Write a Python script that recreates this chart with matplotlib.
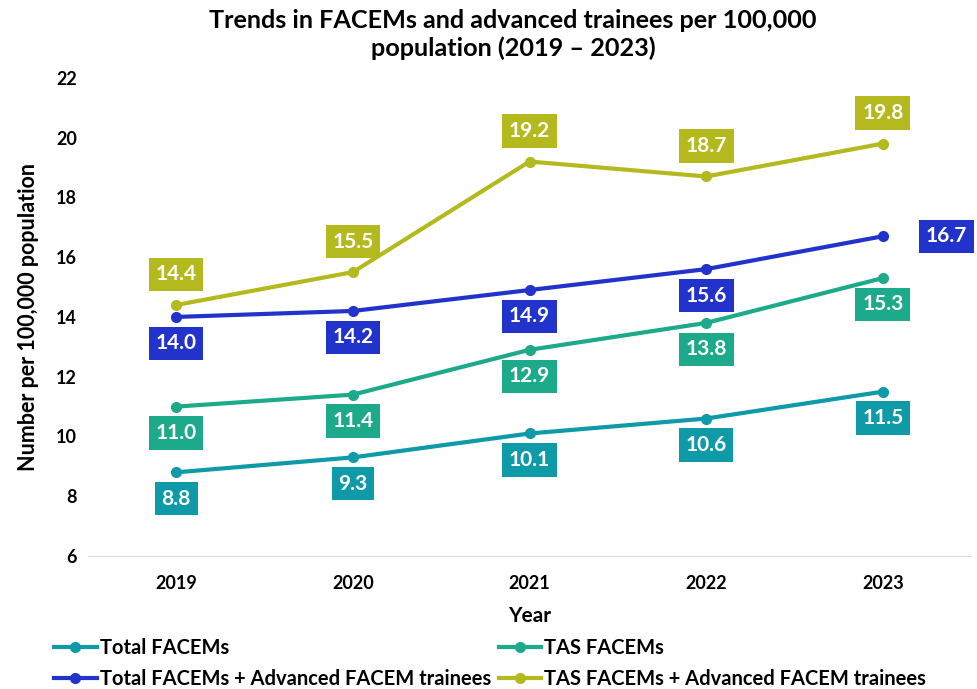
import matplotlib
matplotlib.use("Agg")
import matplotlib.pyplot as plt

plt.rcParams['font.family'] = ['Lato', 'DejaVu Sans']

years = [2019, 2020, 2021, 2022, 2023]
total_facems = [8.8, 9.3, 10.1, 10.6, 11.5]
tas_facems = [11.0, 11.4, 12.9, 13.8, 15.3]
total_adv = [14.0, 14.2, 14.9, 15.6, 16.7]
tas_adv = [14.4, 15.5, 19.2, 18.7, 19.8]

series = [
    ("Total FACEMs", total_facems, "#0E9AA7", ["below"] * 5),
    ("TAS FACEMs", tas_facems, "#1DAA8A", ["below"] * 5),
    ("Total FACEMs + Advanced FACEM trainees", total_adv, "#2233CC",
     ["below", "below", "below", "below", "right"]),
    ("TAS FACEMs + Advanced FACEM trainees", tas_adv, "#B4BA1E", ["above"] * 5),
]

fig = plt.figure(figsize=(9.77, 6.89), dpi=100)
ax = fig.add_axes([0.090, 0.193, 0.904, 0.694])

for name, vals, col, pos in series:
    ax.plot(years, vals, color=col, lw=3, marker='o', ms=7, label=name, zorder=3)
    for x, v, p in zip(years, vals, pos):
        if p == "below":
            off, ha = (0, -19), 'center'
        elif p == "above":
            off, ha = (0, 22), 'center'
        else:
            off, ha = (31, 0), 'left'
        ax.annotate(f"{v:.1f}", (x, v), xytext=off, textcoords='offset points',
                    ha=ha, va='center', color='white', fontsize=15, fontweight='bold',
                    bbox=dict(boxstyle='square,pad=0.32', fc=col, ec='none'), zorder=4)

ax.set_xlim(2018.5, 2023.5)
ax.set_ylim(6, 22)
ax.set_xticks(years)
ax.set_xticklabels([str(y) for y in years])
ax.set_yticks(range(6, 23, 2))
for s in ['top', 'right', 'left']:
    ax.spines[s].set_visible(False)
ax.spines['bottom'].set_color('#D9D9D9')
ax.tick_params(axis='both', length=0, labelsize=13, pad=8)
for lab in ax.get_xticklabels() + ax.get_yticklabels():
    lab.set_fontweight('bold')
ax.tick_params(axis='x', pad=14)
ax.set_xlabel("Year", fontsize=15, fontweight='bold', labelpad=10)
ax.set_ylabel("Number per 100,000 population", fontsize=15.5, fontweight='bold', labelpad=12)
fig.suptitle("Trends in FACEMs and advanced trainees per 100,000\npopulation (2019 \u2013 2023)",
             x=0.525, y=0.987, fontsize=18.2, fontweight='bold', linespacing=1.25)

handles, labels = ax.get_legend_handles_labels()
order = [0, 2, 1, 3]
leg = fig.legend([handles[i] for i in order], [labels[i] for i in order], ncol=2,
                 loc='lower left', bbox_to_anchor=(0.037, -0.027), frameon=False,
                 prop={'size': 14.5, 'weight': 'bold'}, handlelength=2.1, handletextpad=0.15,
                 columnspacing=0.4, labelspacing=0.55)
fig.savefig("out.png", dpi=100)
